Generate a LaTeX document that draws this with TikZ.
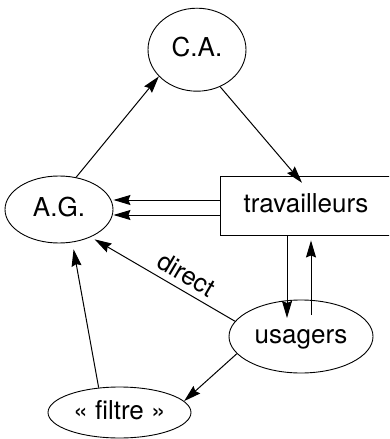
\documentclass[tikz,border=0pt]{standalone}
\usepackage{fontspec}
\setmainfont{TeX Gyre Heros}
\usetikzlibrary{arrows.meta,shapes.geometric}
\begin{document}
\begin{tikzpicture}[x=1pt,y=-1pt,
  every node/.style={font=\fontsize{26}{31}\selectfont, text height=19pt, text depth=5pt, inner sep=0pt},
  ell/.style={draw, ellipse, line width=0.9pt},
  boxn/.style={draw, line width=0.9pt},
  arr/.style={-{Stealth[length=17pt,width=10pt,inset=2pt]}, line width=1pt}]
\clip (0,0) rectangle (389,439);
\node[ell, minimum width=98pt, minimum height=83pt] (ca) at (197,49.7) {C.A.};
\node[ell, minimum width=108pt, minimum height=67pt] (ag) at (59,209.5) {A.G.};
\node[boxn, minimum width=172pt, minimum height=58.3pt] (tr) at (306,205.85) {travailleurs};
\node[ell, minimum width=144pt, minimum height=73pt] (us) at (301,336.5) {usagers};
\node[ell, minimum width=143pt, minimum height=51pt] (fi) at (119.5,412.5) {« filtre »};
\draw[arr] (ag.62.8) -- (ca.215.4);
\draw[arr] (ca.-58) -- ([xshift=-4pt,yshift=-6.5pt]tr.north);
\coordinate (w1) at ([yshift=5.85pt]tr.west);
\coordinate (w2) at ([yshift=-9.15pt]tr.west);
\draw[arr] (w1) -- (w1 -| ag.east);
\draw[arr] (w2) -- (w2 -| ag.east);
\draw[arr] ([xshift=-19pt]tr.south) -- ([xshift=-14pt,yshift=18.5pt]us.center);
\draw[arr] ([xshift=10pt,yshift=21.5pt]us.center) -- ([xshift=5pt,yshift=-5pt]tr.south);
\draw[arr, shorten >=4.5pt] (us.167.6) -- (ag.-41);
\node[font=\fontsize{25.5}{30}\selectfont, text height=18.5pt, text depth=0pt, rotate=-30.5] (lbl) at (187,274) {direct};
\draw[arr] (us.195.7) -- (fi.10.5);
\draw[arr, shorten >=7pt] (fi.130) -- (ag.-68);
\end{tikzpicture}
\end{document}
